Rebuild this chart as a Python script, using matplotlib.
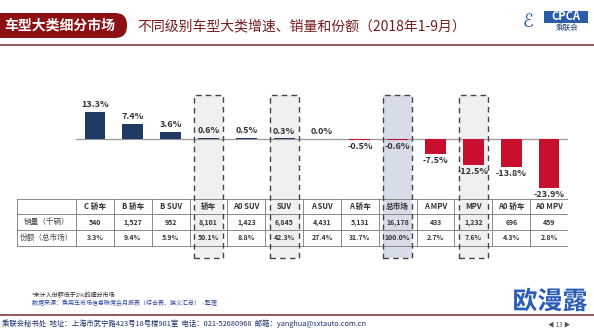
import matplotlib
matplotlib.use('Agg')
from matplotlib import pyplot as plt
from matplotlib.patches import FancyBboxPatch, Rectangle
import matplotlib.patheffects as pe

plt.rcParams['font.family'] = ['Noto Sans CJK SC', 'DejaVu Sans']

# data
categories = ['C 轿车', 'B 轿车', 'B SUV', '轿车', 'A0 SUV', 'SUV', 'A SUV', 'A 轿车',
              '总市场', 'A MPV', 'MPV', 'A0 轿车', 'A0 MPV']
growth = [13.3, 7.4, 3.6, 0.6, 0.5, 0.3, 0.0, -0.5, -0.6, -7.5, -12.5, -13.8, -23.9]
sales = ['540', '1,527', '952', '8,101', '1,423', '6,845', '4,431', '5,131',
         '16,178', '433', '1,232', '696', '459']
share = ['3.3%', '9.4%', '5.9%', '50.1%', '8.8%', '42.3%', '27.4%', '31.7%',
         '100.0%', '2.7%', '7.6%', '4.3%', '2.8%']
row_labels = ['销量（千辆）', '份额（总市场）']
grey_boxes = ['轿车', 'SUV', 'MPV']
blue_boxes = ['总市场']

title = '不同级别车型大类增速、销量和份额（2018年1-9月）'
tab_text = '车型大类细分市场'
note1 = '*未计入份额低于2%的细分市场'
note2 = '数据来源：乘用车市场信息联席会月报表（综合表、狭义汇总）  -整理'
footer = '乘联会秘书处  地址：上海市武宁路423号18号楼901室  电话：021-52680968  邮箱：yanghua@sxtauto.com.cn'

W, H = 594, 331
fig = plt.figure(figsize=(W / 100, H / 100), dpi=100)
fig.patch.set_facecolor('white')

# overlay in pixel coords for header / footer
ov = fig.add_axes([0, 0, 1, 1])
ov.set_xlim(0, W)
ov.set_ylim(H, 0)
ov.axis('off')

dark_red = '#8c1014'
ov.add_patch(FancyBboxPatch((-20, 13), 147, 25, boxstyle='round,pad=0,rounding_size=12',
                            fc=dark_red, ec='none'))
ov.text(60, 26, tab_text, color='white', fontsize=10, fontweight='bold', ha='center', va='center')
ov.text(137, 26, title, color='#7a1c1c', fontsize=10, ha='left', va='center')
ov.plot([0, W], [45, 45], color='#8a3c3c', lw=1.2)

# logo
ov.add_patch(Rectangle((544, 11), 44, 12, fc='#2a5caa', ec='none'))
ov.text(566, 17, 'CPCA', color='white', fontsize=8, fontstyle='italic', fontweight='bold',
        ha='center', va='center')
ov.text(567, 28, '乘联会', color='#1f3f7a', fontsize=5.5, ha='center', va='center')
ov.text(528, 22, 'ℰ', color='#2a5caa', fontsize=13, fontstyle='italic', ha='center', va='center')

# footer
ov.text(32, 295, note1, fontsize=4.3, color='#222222', ha='left', va='center')
ov.text(32, 303, note2, fontsize=4.3, color='#2a44a0', ha='left', va='center')
ov.plot([0, W], [315, 315], color='#8a3c3c', lw=1.2)
ov.text(2, 324, footer, fontsize=5.3, color='#1a2f6b', ha='left', va='center')
ov.text(559, 324, '◀ 13 ▶', fontsize=4.5, color='#555555', ha='center', va='center')
ov.text(550, 302, '欧漫露', fontsize=18, fontweight='bold', color='#2b5cb8', ha='center', va='center',
        path_effects=[pe.withStroke(linewidth=3, foreground='white')])

# chart axes: x in column index, y in growth %
x0_px, x1_px, col0_px = 17, 568, 76
colw = (x1_px - col0_px) / len(categories)
left_lim = -0.5 - (col0_px - x0_px) / colw
top_px, bot_px, zero_px, ppu = 90, 262, 139, 2.05
ax = fig.add_axes([x0_px / W, 1 - bot_px / H, (x1_px - x0_px) / W, (bot_px - top_px) / H])
ax.set_xlim(left_lim, len(categories) - 0.5)
ax.set_ylim(-(bot_px - zero_px) / ppu, (zero_px - top_px) / ppu)
ax.axis('off')

def py(p):
    return (zero_px - p) / ppu

box_top, box_bot = py(95), py(258)
for i, c in enumerate(categories):
    if c in grey_boxes or c in blue_boxes:
        fc = '#d6dce8' if c in blue_boxes else '#f0f0f0'
        ax.add_patch(Rectangle((i - 0.385, box_bot), 0.77, box_top - box_bot, fc=fc, ec='none', zorder=0))
        ax.add_patch(Rectangle((i - 0.385, box_bot), 0.77, box_top - box_bot, fc='none', ec='#444444',
                               lw=1.0, ls=(0, (4, 3)), zorder=5))

xs = list(range(len(categories)))
colors = ['#1f3a63' if g > 0 else '#c8102e' for g in growth]
ax.bar(xs, growth, width=0.55, color=colors, zorder=3)
ax.plot([-0.5, len(categories) - 0.5], [0, 0], color='#999999', lw=0.9, zorder=2)

for i, g in enumerate(growth):
    if g >= 0:
        ax.annotate('%.1f%%' % g, (i, g), xytext=(0, 2), textcoords='offset points',
                    ha='center', va='bottom', fontsize=6.5, fontweight='bold', color='#333333', zorder=6)
    else:
        ax.annotate('%.1f%%' % g, (i, g), xytext=(0, -1.5), textcoords='offset points',
                    ha='center', va='top', fontsize=6.5, fontweight='bold', color='#333333', zorder=6)

# table
rows = [py(199), py(214.5), py(230), py(246)]
right = len(categories) - 0.5
for r in rows:
    ax.plot([left_lim, right], [r, r], color='#777777', lw=0.6, zorder=4)
for xe in [left_lim] + [i - 0.5 for i in range(len(categories) + 1)]:
    ax.plot([xe, xe], [rows[0], rows[-1]], color='#777777', lw=0.6, zorder=4)

mid = [(rows[k] + rows[k + 1]) / 2 for k in range(3)]
label_x = (left_lim - 0.5) / 2
ax.text(label_x, mid[1], row_labels[0], ha='center', va='center', fontsize=5.5, color='#444444', zorder=6)
ax.text(label_x, mid[2], row_labels[1], ha='center', va='center', fontsize=5.5, color='#444444', zorder=6)
for i, c in enumerate(categories):
    ax.text(i, mid[0], c, ha='center', va='center', fontsize=5.5, fontweight='bold', color='#333333', zorder=6)
    ax.text(i, mid[1], sales[i], ha='center', va='center', fontsize=5, fontweight='bold', color='#333333', zorder=6)
    ax.text(i, mid[2], share[i], ha='center', va='center', fontsize=5, fontweight='bold', color='#333333', zorder=6)

fig.savefig('out.png', dpi=100)
